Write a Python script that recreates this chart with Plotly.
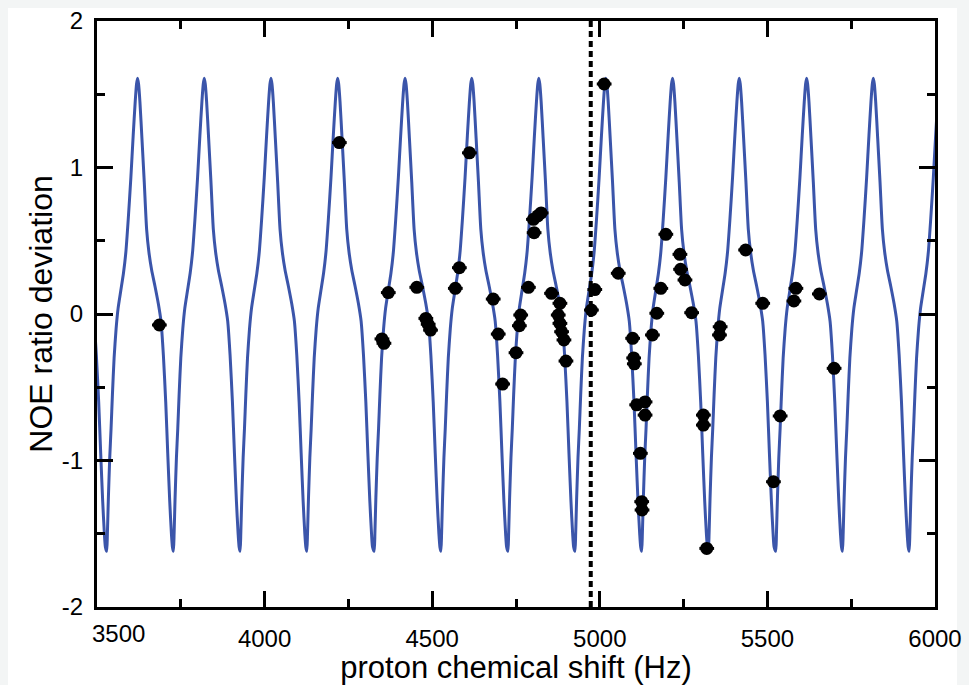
import plotly.graph_objects as go

# ---- data ----
# peak positions of the theoretical curve (Hz)
curve_peaks = [3421, 3621, 3820, 4019, 4218, 4419, 4618, 4818, 5018, 5217, 5416, 5617, 5816, 6015]
# one period of the curve shape: offset from peak (Hz) and value
shape_offset = [-92, -90, -87, -83, -79, -75, -70, -64, -58, -50, -42, -35, -28, -20, -13, -7, -3, 0,
                3, 7, 13, 20, 27, 34, 42, 52, 62, 70, 77, 84, 90, 96, 101, 104]
shape_value = [-1.62, -1.50, -1.25, -0.98, -0.78, -0.55, -0.30, -0.10, 0.04, 0.16, 0.28, 0.42, 0.64, 0.93, 1.22, 1.45, 1.57, 1.61,
               1.57, 1.45, 1.20, 0.90, 0.58, 0.42, 0.30, 0.19, 0.07, -0.05, -0.28, -0.60, -0.95, -1.28, -1.50, -1.59]

# measured data points
shift_hz = [3686, 4223, 4350, 4356, 4369, 4454, 4481, 4488, 4495, 4569, 4581, 4611,
            4682, 4697, 4710, 4750, 4760, 4764, 4787, 4802, 4804, 4815, 4825,
            4856, 4876, 4881, 4881, 4886, 4893, 4899, 4975, 4985, 5013,
            5055, 5098, 5101, 5103, 5110, 5121, 5125, 5126, 5135, 5135,
            5157, 5170, 5182, 5197, 5239, 5241, 5254, 5274, 5309, 5309, 5319,
            5357, 5359, 5435, 5486, 5518, 5538, 5579, 5585, 5655, 5699]
noe_dev = [-0.075, 1.17, -0.17, -0.20, 0.146, 0.182, -0.03, -0.07, -0.11, 0.175, 0.316, 1.10,
           0.102, -0.137, -0.478, -0.264, -0.08, -0.007, 0.182, 0.646, 0.555, 0.67, 0.69,
           0.141, -0.007, 0.073, -0.064, -0.121, -0.177, -0.321, 0.027, 0.167, 1.57,
           0.278, -0.166, -0.30, -0.34, -0.62, -0.951, -1.281, -1.338, -0.60, -0.69,
           -0.143, 0.005, 0.175, 0.544, 0.407, 0.305, 0.232, 0.009, -0.69, -0.758, -1.60,
           -0.143, -0.087, 0.437, 0.073, -1.145, -0.696, 0.089, 0.175, 0.137, -0.371]

carrier_hz = 4973

x_ticks = [3500, 4000, 4500, 5000, 5500, 6000]
x_ticktext = ["", "4000", "4500", "5000", "5500", "6000"]
y_ticks = [-2, -1, 0, 1, 2]
y_ticktext = ["-2", "-1", "0", "1", "2"]

FONT = "Liberation Sans, Arial"

# build curve from tiled read shape
curve_x, curve_y = [], []
for p in curve_peaks:
    for o, v in zip(shape_offset, shape_value):
        curve_x.append(p + o)
        curve_y.append(v)

fig = go.Figure()
fig.add_trace(go.Scatter(x=curve_x, y=curve_y, mode="lines",
                         line=dict(color="#3b55aa", width=3, shape="spline", smoothing=0.6),
                         hoverinfo="skip", showlegend=False))
fig.add_trace(go.Scatter(x=shift_hz, y=noe_dev, mode="markers",
                         marker=dict(color="black", size=13, symbol="circle"),
                         error_x=dict(type="constant", value=22, thickness=3, width=0, color="black"),
                         showlegend=False))

fig.add_shape(type="line", xref="x", yref="y", x0=carrier_hz, x1=carrier_hz, y0=-2, y1=2,
              line=dict(color="black", width=4, dash="6px,4px"), layer="above")

# first x tick label, shifted right of its tick as in the original
fig.add_annotation(x=3500, y=-2, xref="x", yref="y", text="3500", showarrow=False,
                   xanchor="left", yanchor="top", xshift=-7, yshift=-11,
                   font=dict(family=FONT, size=24, color="black"))

axis_common = dict(showline=True, linewidth=3, linecolor="black", mirror="ticks",
                   ticks="inside", tickwidth=3, ticklen=16, tickcolor="black",
                   showgrid=False, zeroline=False, automargin=False,
                   tickfont=dict(family=FONT, size=24, color="black"),
                   minor=dict(ticks="inside", ticklen=8, tickwidth=3, tickcolor="black", showgrid=False))

fig.update_xaxes(range=[3500, 6000], tickvals=x_ticks, ticktext=x_ticktext, ticklabelstandoff=8,
                 title=dict(text="proton chemical shift (Hz)", standoff=11,
                            font=dict(family=FONT, size=31, color="black")),
                 minor_dtick=250, minor_tick0=3500, **axis_common)
fig.update_yaxes(range=[-2, 2], tickvals=y_ticks, ticktext=y_ticktext, ticklabelstandoff=6,
                 title=dict(text="NOE ratio deviation", standoff=0,
                            font=dict(family=FONT, size=32, color="black")),
                 minor_dtick=0.5, minor_tick0=0, **axis_common)

fig.add_shape(type="rect", xref="paper", yref="paper", x0=-0.1062, x1=1.0263, y0=-0.14, y1=1.0222,
              fillcolor="white", line=dict(width=0), layer="below")

fig.update_layout(width=969, height=685, margin=dict(l=97, r=34, t=21, b=78),
                  paper_bgcolor="#f3f5f5", plot_bgcolor="white")

fig.write_html("out.html")
